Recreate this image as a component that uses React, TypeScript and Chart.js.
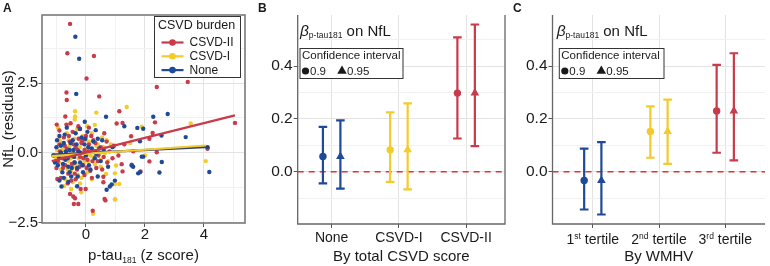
import React, { useEffect, useRef } from "react";
import { Chart, registerables } from "chart.js";

Chart.register(...registerables);

const FONT = "'Liberation Sans', Arial, Helvetica, sans-serif";
const RED = "#C93A4B";
const YELLOW = "#F3CB2A";
const BLUE = "#1F4A99";
const INK = "#1a1a1a";
const AXIS = "#555555";
const GRID_MAJOR = "#e3e3e3";
const GRID_MINOR = "#f1f1f1";

type Pt = [number, number];

// ---------------- Panel A data (p-tau181 z score vs NfL residuals) ----------------
const redPoints: Pt[] = [
  [-0.54, 4.62], [-0.63, 3.57], [0.27, 3.47], [0.02, 2.66], [-0.66, 2.16], [-0.65, 1.89], [0.45, 2.02],
  [2.44, 4.62], [2.40, 2.36], [3.45, 2.54], [5.05, 1.07], [1.13, 1.49], [-0.99, 1.01], [-0.66, 1.01],
  [-0.52, 1.06], [-0.26, 0.95], [1.04, 1.05], [1.24, 1.07], [2.34, 1.09], [2.26, 0.71], [2.15, 0.50],
  [1.53, 0.59], [2.40, 0.02], [4.12, 0.14], [0.23, -2.08], [-0.41, -1.84], [-0.26, -1.84], [-0.54, -1.48],
  [0.63, -1.66], [0.66, -1.71], [-0.97, -0.94], [-0.43, -1.57], [-0.37, -1.63], [-0.18, -1.30],
  [-0.01, -1.30], [0.59, -0.86], [0.59, -1.06], [1.21, -0.41], [1.24, -0.67], [1.55, -0.43], [1.85, -0.67],
  [2.15, -0.31], [0.2, -0.9], [0.35, -0.55],
  [-0.9, 0.3], [-0.8, -0.2], [-0.75, 0.55], [-0.7, -0.45], [-0.65, 0.15], [-0.6, -0.75], [-0.55, 0.4],
  [-0.5, -0.1], [-0.45, 0.75], [-0.4, -0.35], [-0.35, 0.2], [-0.3, -0.6], [-0.25, 0.5], [-0.2, -0.15],
  [-0.15, 0.35], [-0.1, -0.45], [-0.05, 0.1], [0.0, 0.6], [0.05, -0.25], [0.1, 0.3], [0.15, -0.65],
  [0.25, 0.45], [0.3, 0.05], [0.4, -0.3], [0.5, 0.2], [0.6, -0.15], [0.7, 0.4], [0.8, 0.05], [0.95, 0.25],
  [1.1, -0.1], [1.3, 0.3], [1.6, 0.05], [-1.0, -0.55], [-0.85, -0.9], [-0.62, -1.1], [-0.35, -0.95],
  [-0.05, -0.8], [0.1, 0.9], [-0.2, 0.85], [-0.9, 0.8],
  [-0.95, -0.3], [-0.88, 0.05], [-0.78, -0.55], [-0.72, 0.25], [-0.68, -0.15], [-0.58, 0.6], [-0.48, -0.4],
  [-0.42, 0.3], [-0.38, -0.75], [-0.28, 0.1], [-0.22, -0.5], [-0.12, 0.45], [-0.08, -0.2], [0.02, -0.55],
  [0.08, 0.05], [0.18, 0.6], [0.22, -0.3], [0.32, 0.35], [0.42, -0.1], [0.55, -0.6], [0.62, 0.7],
  [0.72, -0.35], [-0.7, 1.3], [-0.5, -1.0], [0.9, -0.2],
];
const yellowPoints: Pt[] = [
  [-0.37, 1.49], [0.35, 1.44], [-0.37, 1.30], [-0.38, 1.19], [0.04, 0.95], [1.38, 1.64], [1.89, 0.93],
  [3.55, 1.05], [4.06, -0.30], [0.99, -1.67], [0.24, -2.19], [-0.16, -1.42], [1.02, -0.46], [0.98, -0.74],
  [0.68, -0.76], [0.98, -1.12], [1.13, -1.12], [0.98, -1.68], [0.5, -0.5], [1.5, 0.35], [2.0, -0.1],
  [-1.0, -0.2], [-0.9, 0.45], [-0.85, -0.6], [-0.8, 0.1], [-0.7, -0.95], [-0.65, 0.7], [-0.6, -0.3],
  [-0.55, 0.25], [-0.5, -0.65], [-0.45, 0.05], [-0.4, 0.5], [-0.35, -0.4], [-0.3, 0.85], [-0.25, -0.2],
  [-0.2, 0.2], [-0.15, -0.9], [-0.1, 0.6], [-0.05, -0.35], [0.0, 0.15], [0.05, -0.7], [0.1, 0.4],
  [0.15, -0.1], [0.2, 0.7], [0.3, -0.4], [0.35, 0.25], [0.45, -0.05], [0.55, 0.55], [0.65, 0.0],
  [0.75, -0.3], [0.85, 0.3], [-0.75, -1.2], [-0.5, -1.3], [-0.95, 0.9], [0.3, 1.0], [-0.2, -1.1],
  [-0.98, 0.1], [-0.92, -0.35], [-0.82, 0.35], [-0.72, -0.1], [-0.62, -0.6], [-0.58, 0.45], [-0.52, -0.2],
  [-0.42, -0.5], [-0.32, 0.15], [-0.27, -0.8], [-0.18, 0.4], [-0.12, -0.2], [-0.02, 0.45], [0.08, -0.3],
  [0.12, 0.1], [0.25, -0.15], [0.4, 0.3], [0.5, -0.25], [0.6, 0.2], [-0.45, -1.05], [-0.6, 1.0],
  [0.2, -0.95], [0.7, 0.45],
];
const bluePoints: Pt[] = [
  [-0.36, 4.16], [-0.23, 3.37], [-0.33, 2.11], [0.68, 1.29], [2.28, 1.29], [2.77, 1.39], [3.38, 0.56],
  [2.56, 0.62], [4.12, 0.2], [4.18, -0.69], [2.57, -0.33], [2.49, -0.71], [1.74, 0.89], [1.94, 0.86],
  [1.30, 0.95], [1.83, 0.41], [-0.04, 1.11], [-0.21, 0.86], [0.33, 0.81], [0.98, -1.0], [0.87, -1.14],
  [0.81, -1.21], [0.70, -1.33], [1.55, -0.46], [1.60, -0.50], [1.77, -0.74], [1.83, -0.70], [1.89, -0.14],
  [1.94, -0.14], [-0.83, -1.21],
  [-1.1, -0.1], [-1.0, 0.2], [-0.95, -0.45], [-0.9, 0.6], [-0.85, 0.0], [-0.8, -0.7], [-0.75, 0.35],
  [-0.7, -0.25], [-0.65, 0.9], [-0.6, -0.5], [-0.55, 0.1], [-0.5, -0.85], [-0.45, 0.45], [-0.4, -0.15],
  [-0.35, 0.7], [-0.3, -0.55], [-0.25, 0.05], [-0.2, -0.35], [-0.15, 0.55], [-0.1, -0.7], [-0.05, 0.3],
  [0.0, -0.1], [0.05, 0.75], [0.1, -0.45], [0.2, 0.15], [0.3, -0.2], [0.4, 0.5], [0.5, -0.3], [0.6, 0.1],
  [0.75, -0.5], [0.9, 0.2], [-0.6, -1.05], [-0.9, -1.0], [-0.3, -1.2], [0.4, -0.85],
  [-1.05, -0.35], [-0.98, 0.45], [-0.92, -0.15], [-0.85, 0.25], [-0.78, -0.4], [-0.72, 0.65], [-0.68, 0.05],
  [-0.62, -0.2], [-0.52, 0.35], [-0.48, -0.55], [-0.42, 0.1], [-0.38, -0.35], [-0.32, 0.3], [-0.28, -0.85],
  [-0.18, 0.0], [-0.12, -0.45], [-0.02, 0.5], [0.08, 0.2], [0.15, -0.6], [0.25, 0.4], [0.35, -0.05],
  [0.45, 0.15], [-0.75, -0.9], [-0.55, -0.7], [0.55, 0.45],
];
const redFit: Pt[] = [[-1.16, -0.30], [5.05, 1.34]];
const yellowFit: Pt[] = [[-1.16, -0.12], [4.06, 0.26]];
const blueFit: Pt[] = [[-1.16, -0.07], [4.18, 0.21]];

const aXTicks = [-1, 0, 1, 2, 3, 4, 5];
const aXMajor = [0, 2, 4];
const aYTicks = [-2.5, -1.25, 0, 1.25, 2.5, 3.75];
const aYMajor = [-2.5, 0, 2.5];
const legendACategories = ["CSVD-II", "CSVD-I", "None"];
const legendAColors = [RED, YELLOW, BLUE];

// ---------------- Panels B & C data (beta estimates with CIs) ----------------
const csvdCategories = ["None", "CSVD-I", "CSVD-II"];
const csvdEst = [0.058, 0.083, 0.298];
const csvdLo90 = [-0.044, -0.038, 0.126];
const csvdHi90 = [0.170, 0.225, 0.509];
const csvdLo95 = [-0.064, -0.067, 0.097];
const csvdHi95 = [0.195, 0.259, 0.558];

const wmhvOrdinals = ["1", "2", "3"];
const wmhvSuffixes = ["st", "nd", "rd"];
const wmhvEst = [-0.033, 0.153, 0.230];
const wmhvLo90 = [-0.143, 0.053, 0.072];
const wmhvHi90 = [0.088, 0.248, 0.405];
const wmhvLo95 = [-0.162, 0.030, 0.043];
const wmhvHi95 = [0.112, 0.273, 0.449];

const groupColors = [BLUE, YELLOW, RED];
const betaYTicks = [-0.1, 0, 0.1, 0.2, 0.3, 0.4, 0.5];
const betaYMajor = [0, 0.2, 0.4];
const DODGE = 0.13;

// ---------------- helpers ----------------
const isIn = (list: number[], v: any) =>
  typeof v === "number" && list.some((m) => Math.abs(m - v) < 1e-9);

type Seg = { t: string; size: number; italic?: boolean; bold?: boolean; dy?: number };
const segFont = (s: Seg) =>
  `${s.italic ? "italic " : ""}${s.bold ? "bold " : ""}${s.size}px ${FONT}`;
function richWidth(ctx: CanvasRenderingContext2D, segs: Seg[]) {
  let w = 0;
  for (const s of segs) {
    ctx.font = segFont(s);
    w += ctx.measureText(s.t).width;
  }
  return w;
}
function drawRich(ctx: CanvasRenderingContext2D, segs: Seg[], x: number, y: number, align: "left" | "center") {
  let cx = align === "center" ? x - richWidth(ctx, segs) / 2 : x;
  ctx.textBaseline = "alphabetic";
  ctx.textAlign = "left";
  for (const s of segs) {
    ctx.font = segFont(s);
    ctx.fillText(s.t, cx, y + (s.dy || 0));
    cx += ctx.measureText(s.t).width;
  }
}
function triangle(ctx: CanvasRenderingContext2D, x: number, y: number, r: number) {
  ctx.beginPath();
  ctx.moveTo(x, y - r);
  ctx.lineTo(x + r * 0.95, y + r * 0.65);
  ctx.lineTo(x - r * 0.95, y + r * 0.65);
  ctx.closePath();
  ctx.fill();
}

// ---------------- Panel A ----------------
const panelAPlugin = {
  id: "panelA",
  afterDraw(chart: any) {
    const { ctx, chartArea: ca } = chart;
    ctx.save();
    ctx.strokeStyle = "#7a7a7a";
    ctx.lineWidth = 1.6;
    ctx.strokeRect(ca.left, ca.top, ca.right - ca.left, ca.bottom - ca.top);

    // legend
    const bx = 154.5, by = 16.5, bw = 86, bh = 61;
    ctx.fillStyle = "#ffffff";
    ctx.fillRect(bx, by, bw, bh);
    ctx.strokeStyle = "#333333";
    ctx.lineWidth = 1;
    ctx.strokeRect(bx, by, bw, bh);
    ctx.fillStyle = INK;
    ctx.font = `12.5px ${FONT}`;
    ctx.textBaseline = "middle";
    ctx.textAlign = "left";
    ctx.fillText("CSVD burden", bx + 3.5, by + 9);
    legendACategories.forEach((lab, i) => {
      const yy = by + 26 + i * 13.8;
      ctx.strokeStyle = legendAColors[i];
      ctx.lineWidth = 2.2;
      ctx.beginPath();
      ctx.moveTo(bx + 7, yy);
      ctx.lineTo(bx + 29, yy);
      ctx.stroke();
      ctx.fillStyle = legendAColors[i];
      ctx.beginPath();
      ctx.arc(bx + 18, yy, 3.3, 0, Math.PI * 2);
      ctx.fill();
      ctx.fillStyle = INK;
      ctx.font = `12px ${FONT}`;
      ctx.fillText(lab, bx + 35, yy + 0.5);
    });

    // axis titles
    ctx.fillStyle = INK;
    drawRich(
      ctx,
      [
        { t: "p-tau", size: 15 },
        { t: "181", size: 8.5, dy: 2.5 },
        { t: " (z score)", size: 15 },
      ],
      (ca.left + ca.right) / 2,
      260,
      "center"
    );
    ctx.save();
    ctx.translate(9, (ca.top + ca.bottom) / 2);
    ctx.rotate(-Math.PI / 2);
    ctx.font = `15px ${FONT}`;
    ctx.textAlign = "center";
    ctx.textBaseline = "middle";
    ctx.fillText("NfL (residuals)", 0, 0);
    ctx.restore();

    ctx.font = `bold 12px ${FONT}`;
    ctx.textAlign = "left";
    ctx.textBaseline = "alphabetic";
    ctx.fillText("A", 3, 12);
    ctx.restore();
  },
};

function panelAConfig(): any {
  const pts = (arr: Pt[], color: string) => ({
    data: arr.map(([x, y]) => ({ x, y })),
    backgroundColor: color,
    borderColor: color,
    pointRadius: 2.2,
    pointBorderWidth: 0,
    showLine: false,
    order: 5,
  });
  const fit = (arr: Pt[], color: string, order: number) => ({
    data: arr.map(([x, y]) => ({ x, y })),
    borderColor: color,
    backgroundColor: color,
    borderWidth: 2.2,
    pointRadius: 0,
    showLine: true,
    order,
  });
  return {
    type: "scatter",
    data: {
      datasets: [
        fit(redFit, RED, 0),
        fit(yellowFit, YELLOW, 1),
        fit(blueFit, "#2c3f6e", 2),
        pts(bluePoints, BLUE),
        pts(redPoints, RED),
        pts(yellowPoints, YELLOW),
      ],
    },
    options: {
      animation: false,
      responsive: false,
      events: [],
      layout: { padding: { top: 15, right: 10, left: 0, bottom: 0 } },
      plugins: { legend: { display: false }, tooltip: { enabled: false } },
      scales: {
        x: {
          type: "linear",
          min: -1.49,
          max: 5.39,
          afterBuildTicks: (s: any) => {
            s.ticks = aXTicks.map((v) => ({ value: v }));
          },
          afterFit: (s: any) => {
            s.height = 43;
          },
          border: { display: false },
          grid: {
            color: (c: any) => (isIn(aXMajor, c.tick?.value) ? GRID_MAJOR : GRID_MINOR),
            lineWidth: 1,
            tickLength: 4,
            tickColor: (c: any) => (isIn(aXMajor, c.tick?.value) ? AXIS : "rgba(0,0,0,0)"),
          },
          ticks: {
            autoSkip: false,
            maxRotation: 0,
            padding: -1,
            color: INK,
            font: { family: FONT, size: 15 },
            callback: (v: any) => (isIn(aXMajor, v) ? String(v) : ""),
          },
        },
        y: {
          type: "linear",
          min: -2.52,
          max: 4.94,
          afterBuildTicks: (s: any) => {
            s.ticks = aYTicks.map((v) => ({ value: v }));
          },
          afterFit: (s: any) => {
            s.width = 42;
          },
          border: { display: false },
          grid: {
            color: (c: any) => (isIn(aYMajor, c.tick?.value) ? GRID_MAJOR : GRID_MINOR),
            lineWidth: 1,
            tickLength: 3.5,
            tickColor: (c: any) => (isIn(aYMajor, c.tick?.value) ? AXIS : "rgba(0,0,0,0)"),
          },
          ticks: {
            autoSkip: false,
            padding: 0.5,
            color: INK,
            font: { family: FONT, size: 15 },
            callback: (v: any) =>
              isIn(aYMajor, v) ? (v < 0 ? "\u2212" + Math.abs(v).toFixed(1) : v.toFixed(1)) : "",
          },
        },
      },
    },
    plugins: [panelAPlugin],
  };
}

// ---------------- Panels B & C ----------------
type BetaPanel = {
  letter: string;
  est: number[];
  lo90: number[];
  hi90: number[];
  lo95: number[];
  hi95: number[];
  xmin: number;
  xmax: number;
  yWidth: number;
  padRight: number;
  rightBorder: boolean;
  xTitle: string;
  titleX: number;
  legendX: number;
  legendW: number;
  customLabels: boolean;
};

function betaPlugin(p: BetaPanel) {
  return {
    id: "beta" + p.letter,
    beforeDatasetsDraw(chart: any) {
      const { ctx, chartArea: ca, scales } = chart;
      const xs = scales.x, ys = scales.y;
      ctx.save();
      // zero reference line
      const y0 = ys.getPixelForValue(0);
      ctx.strokeStyle = "#E5322B";
      ctx.lineWidth = 1.5;
      ctx.setLineDash([6, 5]);
      ctx.beginPath();
      ctx.moveTo(ca.left, y0);
      ctx.lineTo(ca.right, y0);
      ctx.stroke();
      ctx.setLineDash([]);
      // error bars
      p.est.forEach((_, i) => {
        const bars = [
          { off: -DODGE, lo: p.lo90[i], hi: p.hi90[i] },
          { off: DODGE, lo: p.lo95[i], hi: p.hi95[i] },
        ];
        for (const b of bars) {
          const x = xs.getPixelForValue(i + 1 + b.off);
          const yl = ys.getPixelForValue(b.lo);
          const yh = ys.getPixelForValue(b.hi);
          ctx.strokeStyle = groupColors[i];
          ctx.lineWidth = 2.2;
          ctx.beginPath();
          ctx.moveTo(x, yl);
          ctx.lineTo(x, yh);
          ctx.moveTo(x - 4.3, yl);
          ctx.lineTo(x + 4.3, yl);
          ctx.moveTo(x - 4.3, yh);
          ctx.lineTo(x + 4.3, yh);
          ctx.stroke();
        }
      });
      ctx.restore();
    },
    afterDraw(chart: any) {
      const { ctx, chartArea: ca, scales } = chart;
      const xs = scales.x;
      ctx.save();
      // axis lines
      ctx.strokeStyle = "#666666";
      ctx.lineWidth = 1.3;
      ctx.beginPath();
      ctx.moveTo(ca.left, ca.top);
      ctx.lineTo(ca.left, ca.bottom);
      ctx.lineTo(ca.right, ca.bottom);
      if (p.rightBorder) ctx.lineTo(ca.right, ca.top);
      ctx.stroke();

      // beta title
      ctx.fillStyle = INK;
      drawRich(
        ctx,
        [
          { t: "\u03B2", size: 15.5, italic: true },
          { t: "p-tau181", size: 8.5, dy: 2 },
          { t: " on NfL", size: 15 },
        ],
        p.titleX,
        36,
        "left"
      );

      // CI legend
      const bx = p.legendX, by = 48.5, bw = p.legendW, bh = 30;
      ctx.fillStyle = "#ffffff";
      ctx.fillRect(bx, by, bw, bh);
      ctx.strokeStyle = "#333333";
      ctx.lineWidth = 1;
      ctx.strokeRect(bx, by, bw, bh);
      ctx.fillStyle = INK;
      ctx.font = `11.5px ${FONT}`;
      ctx.textAlign = "left";
      ctx.textBaseline = "middle";
      ctx.fillText("Confidence interval", bx + 2, by + 7.5);
      ctx.beginPath();
      ctx.arc(bx + 5.5, by + 22.5, 3.6, 0, Math.PI * 2);
      ctx.fill();
      ctx.fillText("0.9", bx + 10, by + 23);
      triangle(ctx, bx + 42, by + 22, 5);
      ctx.fillText("0.95", bx + 47, by + 23);

      // custom category labels (with superscripts)
      if (p.customLabels) {
        wmhvOrdinals.forEach((o, i) => {
          const x = xs.getPixelForValue(i + 1);
          drawRich(
            ctx,
            [
              { t: o, size: 14 },
              { t: wmhvSuffixes[i], size: 8.5, dy: -5.5 },
              { t: " tertile", size: 14 },
            ],
            x,
            244,
            "center"
          );
        });
      }

      // x title
      ctx.fillStyle = INK;
      ctx.font = `15px ${FONT}`;
      ctx.textAlign = "center";
      ctx.textBaseline = "alphabetic";
      ctx.fillText(p.xTitle, (ca.left + ca.right) / 2, 261);

      // panel letter
      ctx.font = `bold 12px ${FONT}`;
      ctx.textAlign = "left";
      ctx.fillText(p.letter, 3, 12);
      ctx.restore();
    },
  };
}

function betaConfig(p: BetaPanel): any {
  const circles = p.est.map((e, i) => ({ x: i + 1 - DODGE, y: e }));
  const triangles = p.est.map((e, i) => ({ x: i + 1 + DODGE, y: e }));
  return {
    type: "scatter",
    data: {
      datasets: [
        {
          data: circles,
          pointStyle: "circle",
          pointRadius: 3.7,
          pointBorderWidth: 0,
          pointBackgroundColor: groupColors,
          pointBorderColor: groupColors,
        },
        {
          data: triangles,
          pointStyle: "triangle",
          pointRadius: 5,
          pointBorderWidth: 0,
          pointBackgroundColor: groupColors,
          pointBorderColor: groupColors,
        },
      ],
    },
    options: {
      animation: false,
      responsive: false,
      events: [],
      layout: { padding: { top: 15, right: p.padRight, left: 0, bottom: 0 } },
      plugins: { legend: { display: false }, tooltip: { enabled: false } },
      scales: {
        x: {
          type: "linear",
          min: p.xmin,
          max: p.xmax,
          afterBuildTicks: (s: any) => {
            s.ticks = [1, 2, 3].map((v) => ({ value: v }));
          },
          afterFit: (s: any) => {
            s.height = 42;
          },
          border: { display: false },
          grid: { color: GRID_MAJOR, lineWidth: 1, tickLength: 4, tickColor: AXIS },
          ticks: {
            autoSkip: false,
            maxRotation: 0,
            padding: 2,
            color: INK,
            font: { family: FONT, size: 14 },
            callback: (v: any) => (p.customLabels ? "" : csvdCategories[Math.round(v) - 1] ?? ""),
          },
        },
        y: {
          type: "linear",
          min: -0.198,
          max: 0.594,
          afterBuildTicks: (s: any) => {
            s.ticks = betaYTicks.map((v) => ({ value: v }));
          },
          afterFit: (s: any) => {
            s.width = p.yWidth;
          },
          border: { display: false },
          grid: {
            color: (c: any) => (isIn(betaYMajor, c.tick?.value) ? GRID_MAJOR : GRID_MINOR),
            lineWidth: 1,
            tickLength: 4,
            tickColor: (c: any) => (isIn(betaYMajor, c.tick?.value) ? AXIS : "rgba(0,0,0,0)"),
          },
          ticks: {
            autoSkip: false,
            padding: 1,
            color: INK,
            font: { family: FONT, size: 15.5 },
            callback: (v: any) => (isIn(betaYMajor, v) ? Number(v).toFixed(1) : ""),
          },
        },
      },
    },
    plugins: [betaPlugin(p)],
  };
}

const panelB: BetaPanel = {
  letter: "B",
  est: csvdEst,
  lo90: csvdLo90,
  hi90: csvdHi90,
  lo95: csvdLo95,
  hi95: csvdHi95,
  xmin: 0.495,
  xmax: 3.578,
  yWidth: 42.7,
  padRight: 1.7,
  rightBorder: true,
  xTitle: "By total CSVD score",
  titleX: 45,
  legendX: 45,
  legendW: 103,
  customLabels: false,
};
const panelC: BetaPanel = {
  letter: "C",
  est: wmhvEst,
  lo90: wmhvLo90,
  hi90: wmhvHi90,
  lo95: wmhvLo95,
  hi95: wmhvHi95,
  xmin: 0.392,
  xmax: 3.6,
  yWidth: 42.5,
  padRight: 0,
  rightBorder: false,
  xTitle: "By WMHV",
  titleX: 46.7,
  legendX: 49.3,
  legendW: 104.7,
  customLabels: true,
};

function ChartCanvas({ left, width, make }: { left: number; width: number; make: () => any }) {
  const ref = useRef<HTMLCanvasElement | null>(null);
  useEffect(() => {
    if (!ref.current) return;
    const chart = new Chart(ref.current, make());
    return () => chart.destroy();
  }, []);
  return (
    <canvas
      ref={ref}
      width={width}
      height={266}
      style={{ position: "absolute", left, top: 0, width, height: 266 }}
    />
  );
}

export default function App() {
  return (
    <div
      style={{
        position: "fixed",
        left: 0,
        top: 0,
        width: 770,
        height: 266,
        background: "#ffffff",
        overflow: "hidden",
      }}
    >
      <ChartCanvas left={0} width={255} make={panelAConfig} />
      <ChartCanvas left={255} width={255} make={() => betaConfig(panelB)} />
      <ChartCanvas left={510} width={260} make={() => betaConfig(panelC)} />
    </div>
  );
}
